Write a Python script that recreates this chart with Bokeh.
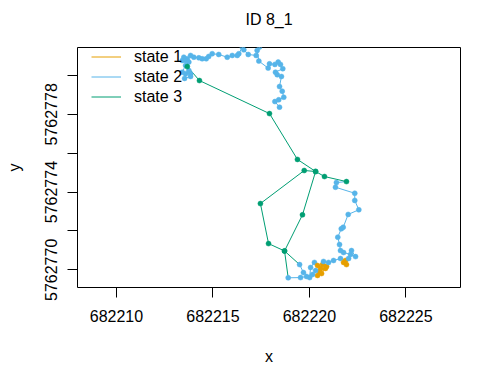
from bokeh.plotting import figure
from bokeh.models import (ColumnDataSource, Range1d, FixedTicker, Legend, LegendItem,
                          BasicTickFormatter, Title)
from bokeh.embed import file_html
from bokeh.resources import INLINE

# ---- data (track of ID 8_1, in order) ----
easting = [
    682218.45, 682218.21, 682218.41, 682218.67, 682218.59, 682218.45, 682218.55, 682218.33, 682218.24, 682218.62,
    682218.50, 682218.38, 682218.21, 682217.93, 682217.86, 682217.38, 682217.29, 682217.41, 682217.24, 682216.83,
    682216.60, 682216.52, 682216.34, 682216.26, 682216.00, 682215.74, 682215.30, 682214.96, 682214.78, 682214.65,
    682214.44, 682214.27, 682214.01, 682213.84, 682213.67, 682213.49, 682213.41, 682213.58, 682213.75, 682213.58,
    682213.41, 682213.58, 682213.84, 682213.75, 682213.53, 682213.84,
    682213.67, 682214.30, 682217.93, 682219.38, 682220.32, 682219.64, 682218.71,
    682219.49, 682219.69, 682220.01, 682220.06, 682220.26,
    682220.42, 682220.58, 682220.68, 682220.83, 682220.52, 682220.42, 682220.63, 682220.89,
    682220.73, 682220.99, 682221.25, 682221.61,
    682221.87, 682221.92, 682221.77,
    682222.03, 682222.18, 682222.39, 682222.13, 682221.77, 682221.61, 682221.56, 682221.47, 682221.65, 682221.75,
    682222.01, 682222.56, 682222.35, 682222.35, 682221.35, 682221.40,
    682221.92, 682220.78, 682220.32, 682219.73, 682217.46, 682217.88, 682218.71,
    682218.90, 682219.54, 682219.85, 682220.16, 682220.32,
]
northing = [
    5762778.37, 5762778.66, 5762778.75, 5762778.88, 5762779.19, 5762779.43, 5762779.95, 5762780.04, 5762780.17, 5762780.35,
    5762780.57, 5762780.69, 5762780.57, 5762780.60, 5762780.38, 5762780.74, 5762781.29, 5762781.46, 5762781.03, 5762781.08,
    5762781.32, 5762781.46, 5762781.12, 5762781.03, 5762781.03, 5762780.94, 5762781.08, 5762781.12, 5762780.98, 5762780.86,
    5762780.86, 5762780.91, 5762780.94, 5762781.03, 5762780.86, 5762780.94, 5762780.77, 5762780.77, 5762780.69, 5762780.52,
    5762780.17, 5762780.09, 5762780.09, 5762780.26, 5762779.85, 5762779.95,
    5762780.46, 5762779.74, 5762778.04, 5762775.68, 5762775.06, 5762772.83, 5762770.97,
    5762770.27, 5762769.86, 5762769.60, 5762770.12, 5762770.38,
    5762770.22, 5762770.07, 5762770.27, 5762770.07, 5762769.91, 5762769.71, 5762769.81, 5762770.17,
    5762770.43, 5762770.38, 5762770.48, 5762770.58,
    5762770.48, 5762770.27, 5762770.38,
    5762770.58, 5762770.99, 5762770.68, 5762770.79, 5762770.89, 5762770.99, 5762771.30, 5762771.68, 5762772.11, 5762772.19,
    5762772.85, 5762773.09, 5762773.57, 5762773.94, 5762774.25, 5762774.49,
    5762774.54, 5762774.80, 5762775.06, 5762775.11, 5762773.41, 5762771.35, 5762770.97,
    5762769.59, 5762769.60, 5762769.66, 5762769.76, 5762769.96,
]
state = [
    2, 2, 2, 2, 2, 2, 2, 2, 2, 2,
    2, 2, 2, 2, 2, 2, 2, 2, 2, 2,
    2, 2, 2, 2, 2, 2, 2, 2, 2, 2,
    2, 2, 2, 2, 2, 2, 2, 2, 2, 2,
    2, 2, 2, 2, 2, 2,
    3, 3, 3, 3, 3, 3, 3,
    2, 2, 2, 2, 2,
    1, 1, 1, 1, 1, 1, 1, 1,
    2, 2, 2, 2,
    1, 1, 1,
    2, 2, 2, 2, 2, 2, 2, 2, 2, 2,
    2, 2, 2, 2, 2, 2,
    3, 3, 3, 3, 3, 3, 3,
    2, 2, 2, 2, 2,
]
state_names = ["state 1", "state 2", "state 3"]
state_colors = ["#E69F00", "#56B4E9", "#009E73"]
x_ticks = [682210, 682215, 682220, 682225]
y_ticks_labelled = [5762770, 5762774, 5762778]
y_ticks_minor = [5762772, 5762776, 5762780]
title_text = "ID 8_1"

FONT = "Liberation Sans"

p = figure(frame_width=383, frame_height=240,
           min_border_left=77, min_border_right=12, min_border_top=47, min_border_bottom=89,
           x_range=Range1d(682207.98, 682227.83), y_range=Range1d(5762769.09, 5762781.44),
           output_backend="svg", toolbar_location=None)

# spacer between frame and title, then the title itself
p.add_layout(Title(text=" ", text_font_size="1px", standoff=17), "above")
p.add_layout(Title(text=title_text, align="center", text_font=FONT, text_font_size="16px",
                   text_font_style="normal", text_color="black", standoff=0), "above")

p.grid.visible = False
p.outline_line_color = "black"
p.outline_line_width = 1
p.outline_line_alpha = 1
p.background_fill_color = "white"
p.border_fill_color = "white"

# segments coloured by the state of their starting location
seg_renderers = []
n = len(easting)
for s in (1, 2, 3):
    idx = [i for i in range(n - 1) if state[i] == s]
    src = ColumnDataSource(dict(
        x0=[easting[i] for i in idx], y0=[northing[i] for i in idx],
        x1=[easting[i + 1] for i in idx], y1=[northing[i + 1] for i in idx]))
    r = p.segment("x0", "y0", "x1", "y1", source=src, line_color=state_colors[s - 1], line_width=1)
    seg_renderers.append(r)

pts = ColumnDataSource(dict(x=easting, y=northing, c=[state_colors[s - 1] for s in state]))
p.scatter("x", "y", source=pts, size=5, fill_color="c", line_color="c", line_width=0.5)

# axes
p.xaxis.ticker = FixedTicker(ticks=x_ticks)
p.yaxis.ticker = FixedTicker(ticks=y_ticks_labelled, minor_ticks=y_ticks_minor)
for ax in (p.xaxis[0], p.yaxis[0]):
    ax.formatter = BasicTickFormatter(use_scientific=False)
    ax.axis_line_color = None
    ax.major_tick_out = 10
    ax.major_tick_in = 0
    ax.major_tick_line_color = "black"
    ax.major_label_text_font = FONT
    ax.major_label_text_font_size = "16px"
    ax.major_label_text_color = "black"
    ax.axis_label_text_font = FONT
    ax.axis_label_text_font_size = "16px"
    ax.axis_label_text_font_style = "normal"
    ax.axis_label_text_color = "black"
p.xaxis.minor_tick_line_color = None
p.yaxis.minor_tick_out = 10
p.yaxis.minor_tick_in = 0
p.yaxis.minor_tick_line_color = "black"
p.xaxis.axis_label = "x"
p.yaxis.axis_label = "y"
p.xaxis.major_label_standoff = 12
p.xaxis.axis_label_standoff = 23
p.yaxis.major_label_orientation = "vertical"
p.yaxis.major_label_standoff = 10
p.yaxis.axis_label_standoff = 20

legend = Legend(items=[LegendItem(label=state_names[k], renderers=[seg_renderers[k]]) for k in range(3)],
                location=(14, 181), margin=0, padding=0, spacing=1,
                glyph_width=30, glyph_height=19, label_height=19, label_standoff=13,
                label_text_font=FONT, label_text_font_size="16px", label_text_color="black",
                background_fill_alpha=0, border_line_alpha=0)
p.add_layout(legend)

open("out.html", "w").write(file_html(p, INLINE))
